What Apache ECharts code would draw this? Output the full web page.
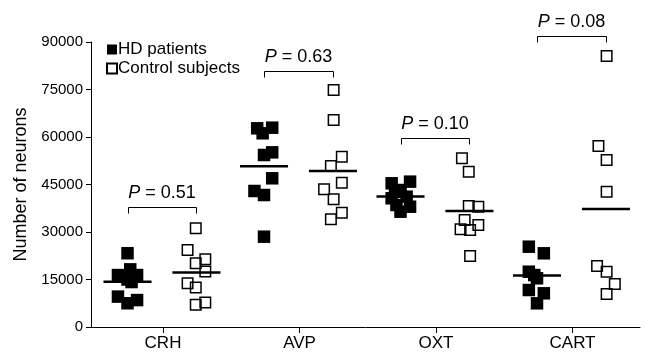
<!DOCTYPE html>
<html>
<head>
<meta charset="utf-8">
<script src="https://cdn.jsdelivr.net/npm/echarts@6/dist/echarts.min.js"></script>
<style>
html,body{margin:0;padding:0;background:#fff;}
#chart{width:645px;height:356px;}
</style>
</head>
<body>
<div id="chart"></div>
<script>
// ---- data ----
const categories = ['CRH', 'AVP', 'OXT', 'CART'];
const yTicks = [0, 15000, 30000, 45000, 60000, 75000, 90000];

// HD patients: neuron counts and horizontal (jittered) positions on the category scale
const hdCRH = [23300, 18200, 16400, 16400, 15000, 14200, 9600, 7500, 8500];
const hdCRHx = [0.74, 0.76, 0.67, 0.81, 0.74, 0.77, 0.67, 0.74, 0.81];
const hdAVP = [62750, 62940, 61170, 54320, 55160, 46960, 42950, 41680, 28520];
const hdAVPx = [1.69, 1.80, 1.73, 1.74, 1.80, 1.80, 1.67, 1.74, 1.74];
const hdOXT = [45380, 45900, 43260, 42730, 41150, 40640, 38530, 37990, 36410];
const hdOXTx = [2.675, 2.81, 2.74, 2.70, 2.785, 2.675, 2.71, 2.81, 2.74];
const hdCART = [25360, 23270, 17460, 16400, 15380, 11680, 10640, 7480];
const hdCARTx = [3.68, 3.79, 3.68, 3.72, 3.74, 3.68, 3.79, 3.74];

// Control subjects
const ctCRH = [31200, 24300, 21400, 20100, 17500, 13800, 12500, 7700, 7000];
const ctCRHx = [1.24, 1.18, 1.31, 1.24, 1.31, 1.18, 1.24, 1.31, 1.24];
const ctAVP = [74840, 65370, 53780, 50840, 45570, 43480, 40330, 36090, 34000];
const ctAVPx = [2.25, 2.25, 2.31, 2.23, 2.31, 2.18, 2.25, 2.31, 2.23];
const ctOXT = [53270, 49050, 38210, 38000, 33790, 32210, 30850, 30630, 22420];
const ctOXTx = [3.19, 3.24, 3.24, 3.31, 3.21, 3.31, 3.18, 3.25, 3.25];
const ctCART = [85580, 57160, 52740, 42730, 19260, 17460, 13580, 10420];
const ctCARTx = [4.25, 4.19, 4.25, 4.25, 4.18, 4.25, 4.31, 4.25];

// group means (horizontal bars)
const hdMeans = [14300, 50800, 41200, 16300];
const ctMeans = [17200, 49300, 36600, 37300];

// significance brackets
const pValues = ['0.51', '0.63', '0.10', '0.08'];
const bracketLevels = [37900, 80800, 59800, 91900];

// ---- chart ----
const HD_OFF = -0.26, CT_OFF = 0.245, MEAN_HALF = 0.176;
const FONT = '"Liberation Sans", Arial, Helvetica, sans-serif';

function pairs(xs, ys) { return ys.map((v, i) => [xs[i], v]); }
const hdData = [].concat(pairs(hdCRHx, hdCRH), pairs(hdAVPx, hdAVP), pairs(hdOXTx, hdOXT), pairs(hdCARTx, hdCART));
const ctData = [].concat(pairs(ctCRHx, ctCRH), pairs(ctAVPx, ctAVP), pairs(ctOXTx, ctOXT), pairs(ctCARTx, ctCART));

const meanData = [];
categories.forEach((c, i) => {
  meanData.push([i + 1 + HD_OFF, hdMeans[i]]);
  meanData.push([i + 1 + CT_OFF, ctMeans[i]]);
});
const bracketData = categories.map((c, i) => [i + 1, bracketLevels[i]]);

const chart = echarts.init(document.getElementById('chart'), null, {renderer: 'canvas'});
chart.setOption({
  animation: false,
  backgroundColor: '#fff',
  textStyle: {fontFamily: FONT, color: '#000'},
  grid: {left: 91, right: 5, top: 42, bottom: 29, containLabel: false},
  legend: {
    orient: 'vertical', left: 101, top: 36, itemWidth: 10, itemHeight: 10, itemGap: 2,
    icon: 'rect',
    textStyle: {fontFamily: FONT, fontSize: 17, color: '#000', padding: [0, 0, 0, -4]},
    data: ['HD patients', 'Control subjects']
  },
  xAxis: {
    type: 'value', min: 0.4725, max: 4.4945,
    axisLine: {show: true, lineStyle: {color: '#000', width: 1}},
    axisTick: {show: true, length: 6, lineStyle: {color: '#000'}, customValues: [1, 2, 3, 4]},
    axisLabel: {
      show: true, customValues: [1, 2, 3, 4], fontSize: 17, color: '#000', fontFamily: FONT, margin: 8,
      formatter: v => categories[Math.round(v) - 1] || ''
    },
    splitLine: {show: false}
  },
  yAxis: {
    type: 'value', min: yTicks[0], max: yTicks[yTicks.length - 1], interval: yTicks[1] - yTicks[0],
    name: 'Number of neurons', nameLocation: 'middle', nameGap: 58,
    nameTextStyle: {fontSize: 18, color: '#000', fontFamily: FONT},
    axisLine: {show: true, lineStyle: {color: '#000', width: 1}},
    axisTick: {show: true, length: 5, lineStyle: {color: '#000'}},
    axisLabel: {fontSize: 15, color: '#000', fontFamily: FONT, margin: 8, formatter: v => String(v)},
    splitLine: {show: false}
  },
  series: [
    {
      name: 'HD patients', type: 'scatter', symbol: 'rect', symbolSize: 12.5,
      itemStyle: {color: '#000', opacity: 1},
      data: hdData, z: 3
    },
    {
      name: 'Control subjects', type: 'scatter', symbol: 'rect', symbolSize: 10.5,
      itemStyle: {color: 'rgba(0,0,0,0)', borderColor: '#000', borderWidth: 1.5, opacity: 1},
      data: ctData, z: 4
    },
    {
      name: 'means', type: 'custom', clip: false, z: 5, silent: true,
      renderItem: function (params, api) {
        const x = api.value(0), y = api.value(1);
        const a = api.coord([x - MEAN_HALF, y]);
        const b = api.coord([x + MEAN_HALF, y]);
        return {type: 'line', shape: {x1: a[0], y1: a[1], x2: b[0], y2: b[1]},
          style: {stroke: '#000', lineWidth: 2.5}};
      },
      data: meanData
    },
    {
      name: 'brackets', type: 'custom', clip: false, z: 6, silent: true,
      renderItem: function (params, api) {
        const k = api.value(0), lvl = api.value(1);
        const a = api.coord([k + HD_OFF, lvl]);
        const b = api.coord([k + CT_OFF, lvl]);
        const ax = Math.round(a[0]) + 0.5, bx = Math.round(b[0]) + 0.5, yy = Math.round(a[1]) + 0.5;
        return {type: 'group', children: [
          {type: 'polyline', shape: {points: [[ax, yy + 6], [ax, yy], [bx, yy], [bx, yy + 6]]},
            style: {stroke: '#000', lineWidth: 1, fill: null}},
          {type: 'text', x: (a[0] + b[0]) / 2, y: a[1] - 14,
            style: {text: '{i|P}{n| = ' + pValues[params.dataIndex] + '}', align: 'center', verticalAlign: 'middle',
              fill: '#000', font: '18px ' + FONT,
              rich: {i: {fontStyle: 'italic', fontSize: 18, fontFamily: FONT, fill: '#000'},
                     n: {fontSize: 18, fontFamily: FONT, fill: '#000'}}}}
        ]};
      },
      data: bracketData
    }
  ]
});
</script>
</body>
</html>
